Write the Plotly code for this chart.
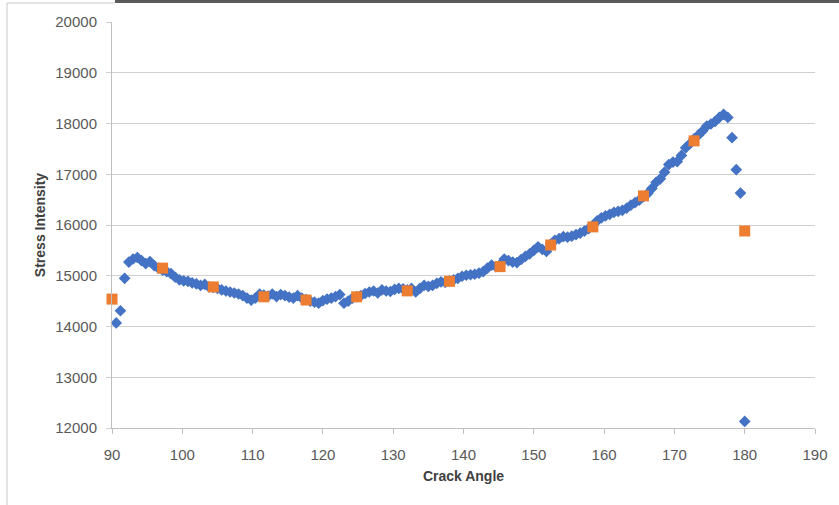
import plotly.graph_objects as go

# Blue series (diamonds)
angles = [round(90.6 + 0.6 * i, 1) for i in range(150)]
stress = [
    14070, 14310, 14950, 15270, 15330, 15360, 15300, 15240, 15280, 15200,
    15150, 15110, 15080, 15040, 14970, 14920, 14900, 14890, 14860, 14840,
    14810, 14830, 14780, 14770, 14750, 14720, 14700, 14680, 14660, 14640,
    14610, 14560, 14520, 14560, 14640, 14620, 14600, 14640, 14590, 14630,
    14610, 14580, 14560, 14610, 14560, 14530, 14500, 14480, 14460, 14510,
    14540, 14560, 14590, 14630, 14460, 14500, 14560, 14590, 14610, 14650,
    14680, 14700, 14660, 14720, 14700, 14690, 14730, 14750, 14740, 14720,
    14750, 14680, 14750, 14810, 14790, 14810, 14850, 14880, 14870, 14900,
    14920, 14950, 14990, 15010, 15020, 15030, 15050, 15080, 15150, 15210,
    15180, 15220, 15330, 15300, 15270, 15260, 15320, 15380, 15430, 15500,
    15570, 15520, 15480, 15620, 15700, 15730, 15770, 15760, 15780, 15810,
    15840, 15880, 15930, 15990, 16080, 16140, 16180, 16210, 16250, 16270,
    16290, 16330, 16390, 16440, 16490, 16560, 16620, 16720, 16840, 16910,
    17040, 17190, 17240, 17250, 17370, 17520, 17600, 17700, 17770, 17850,
    17950, 17990, 18040, 18120, 18180, 18120, 17720, 17090, 16630, 12130,
]

# Orange series (squares)
angles_2 = [90, 97.2, 104.4, 111.6, 117.6, 124.8, 132, 138, 145.2, 152.4, 158.4, 165.6, 172.8, 180]
stress_2 = [14540, 15150, 14780, 14585, 14522, 14585, 14702, 14890, 15180, 15606, 15963, 16574, 17658, 15882]

x_ticks = [90, 100, 110, 120, 130, 140, 150, 160, 170, 180, 190]
y_ticks = [12000, 13000, 14000, 15000, 16000, 17000, 18000, 19000, 20000]

FONT = "Liberation Sans"
TICK_COLOR = "#595959"
GRID = "#d0d0d0"

fig = go.Figure()
fig.add_trace(go.Scatter(
    x=angles, y=stress, mode="markers",
    marker=dict(symbol="diamond", size=9, color="#4472C4"),
    showlegend=False, cliponaxis=False,
))
fig.add_trace(go.Scatter(
    x=angles_2, y=stress_2, mode="markers",
    marker=dict(symbol="square", size=11, color="#ED7D31"),
    showlegend=False, cliponaxis=False,
))

W, H = 839, 505
L, R, T, B = 112, 24, 22, 77
pw, ph = W - L - R, H - T - B

def px_x(p):
    return (p - L) / pw

def px_y(p):
    return (H - B - p) / ph

fig.update_layout(
    width=W, height=H,
    margin=dict(l=L, r=R, t=T, b=B, autoexpand=False),
    paper_bgcolor="white", plot_bgcolor="white",
    font=dict(family=FONT, size=15, color=TICK_COLOR),
    xaxis=dict(
        range=[90, 190], tickvals=x_ticks, ticktext=[str(v) for v in x_ticks],
        showgrid=False, zeroline=False,
        showline=True, linecolor="#bfbfbf", linewidth=1,
        ticks="outside", ticklen=5, tickcolor="#bfbfbf",
        ticklabelstandoff=8,
        title=dict(text="<b>Crack Angle</b>", font=dict(family=FONT, size=14, color="#404040"), standoff=9),
        automargin=False,
    ),
    yaxis=dict(
        range=[12000, 20000], tickvals=y_ticks, ticktext=[str(v) for v in y_ticks],
        showgrid=True, gridcolor=GRID, gridwidth=1, zeroline=False,
        showline=True, linecolor="#bfbfbf", linewidth=1,
        ticks="outside", ticklen=5, tickcolor=GRID,
        ticklabelstandoff=6,
        title=dict(text="<b>Stress Intensity</b>", font=dict(family=FONT, size=14, color="#404040"), standoff=6),
        automargin=False,
    ),
    shapes=[
        # dark strip along the top edge (screenshot artefact)
        dict(type="rect", xref="paper", yref="paper",
             x0=px_x(115), x1=px_x(839), y0=px_y(3), y1=px_y(0),
             fillcolor="#5a5a5a", line=dict(width=0), layer="above"),
        # outer frame line on the left and top-left
        dict(type="line", xref="paper", yref="paper",
             x0=px_x(7), x1=px_x(7), y0=px_y(505), y1=px_y(3),
             line=dict(color="#c8c8c8", width=1)),
        dict(type="line", xref="paper", yref="paper",
             x0=px_x(7), x1=px_x(115), y0=px_y(3), y1=px_y(3),
             line=dict(color="#c8c8c8", width=1)),
    ],
)

fig.write_html(
    "out.html",
    config={"displayModeBar": False},
    post_script="document.body.style.margin='0';document.body.style.overflow='hidden';",
)
